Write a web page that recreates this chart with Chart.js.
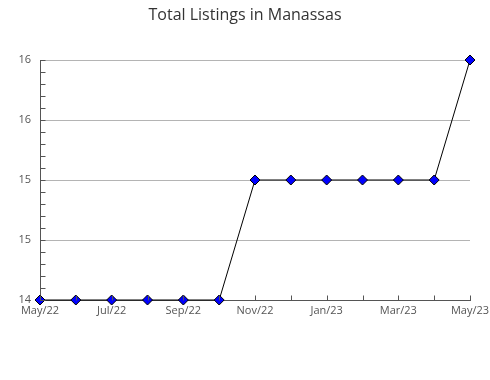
<!DOCTYPE html>
<html>
<head>
<meta charset="utf-8">
<script src="https://cdn.jsdelivr.net/npm/chart.js@4"></script>
<style>
html,body{margin:0;padding:0;background:#fff;}
#wrap{width:490px;height:380px;}
</style>
</head>
<body>
<div id="wrap"><canvas id="c" width="490" height="380"></canvas></div>
<script>
const months = ['May/22','Jun/22','Jul/22','Aug/22','Sep/22','Oct/22','Nov/22','Dec/22','Jan/23','Feb/23','Mar/23','Apr/23','May/23'];
const listings = [14,14,14,14,14,14,15,15,15,15,15,15,16];
const yTickValues = [14,14.5,15,15.5,16];
const yTickLabels = ['14','15','15','16','16'];

const innerTicks = {
  id:'innerTicks',
  afterDatasetsDraw(chart){
    const ctx = chart.ctx, xs = chart.scales.x, ys = chart.scales.y;
    ctx.save();
    ctx.strokeStyle = '#555';
    ctx.lineWidth = 1;
    ctx.beginPath();
    const yb = Math.round(ys.getPixelForValue(14)) + 0.5;
    for (let i = 0; i < months.length; i++) {
      const px = Math.round(xs.getPixelForValue(i)) + 0.5;
      ctx.moveTo(px, yb); ctx.lineTo(px, yb - 5);
    }
    const xl = Math.round(xs.getPixelForValue(0)) + 0.5;
    for (let k = 0; k <= 20; k++) {
      const py = Math.round(ys.getPixelForValue(14 + k * 0.1)) + 0.5;
      ctx.moveTo(xl, py); ctx.lineTo(xl + 5, py);
    }
    ctx.stroke();
    ctx.restore();
  }
};

new Chart(document.getElementById('c'), {
  type: 'line',
  data: {
    labels: months,
    datasets: [{
      data: listings,
      borderColor: '#000',
      borderWidth: 1,
      pointStyle: 'rectRot',
      pointRadius: 5,
      pointHoverRadius: 5,
      pointBackgroundColor: '#0000ff',
      pointBorderColor: '#000',
      pointBorderWidth: 1,
      tension: 0,
      clip: false
    }]
  },
  options: {
    responsive: false,
    animation: false,
    layout: { padding: 0 },
    plugins: {
      legend: { display: false },
      tooltip: { enabled: false },
      title: {
        display: true,
        text: 'Total Listings in Manassas',
        color: '#333',
        font: { family: 'Open Sans', size: 16, weight: 'normal' },
        padding: { top: 6, bottom: 34.8 }
      }
    },
    scales: {
      x: {
        type: 'category',
        offset: false,
        grid: { display: false, drawTicks: false },
        border: { display: true, color: '#555', width: 1 },
        ticks: {
          autoSkip: false,
          maxRotation: 0,
          padding: 4,
          color: '#555',
          font: { family: 'Open Sans', size: 11 },
          callback: (v, i) => (i % 2 === 0 ? months[i] : '')
        },
        afterFit(s) { s.height = 80; s.paddingLeft = 0; s.paddingRight = 20; }
      },
      y: {
        min: 14,
        max: 16,
        afterBuildTicks(s) { s.ticks = yTickValues.map(v => ({ value: v })); },
        grid: { color: '#b4b4b4', drawTicks: false },
        border: { display: true, color: '#555', width: 1 },
        ticks: {
          padding: 9,
          color: '#555',
          font: { family: 'Open Sans', size: 11 },
          callback: (v, i) => yTickLabels[i]
        },
        afterFit(s) { s.width = 40; s.paddingTop = 0; s.paddingBottom = 0; }
      }
    }
  },
  plugins: [innerTicks]
});
</script>
</body>
</html>
